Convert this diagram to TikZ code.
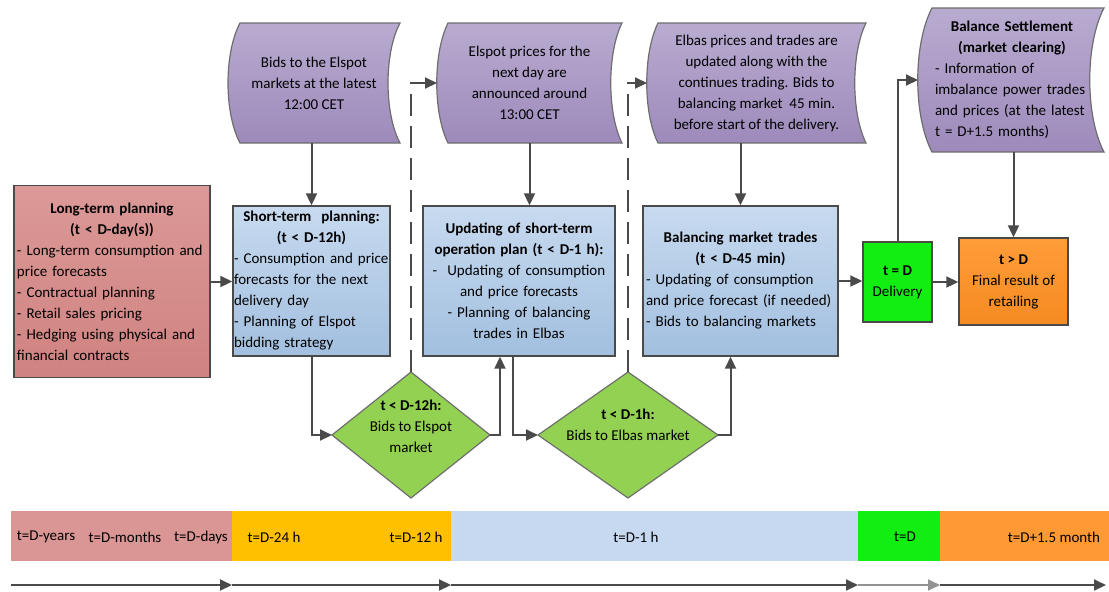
\documentclass[tikz,border=0pt]{standalone}
\usepackage{fontspec}
\setmainfont{Carlito}
\usepackage{tikz}
\usetikzlibrary{shapes,arrows,arrows.meta,positioning,calc}

\definecolor{ltred}{HTML}{DB9997}
\definecolor{ltredd}{HTML}{D08381}
\definecolor{stblue}{HTML}{C7DAEF}
\definecolor{stblued}{HTML}{A2BFDF}
\definecolor{dpurple}{HTML}{B9ABD0}
\definecolor{dpurpled}{HTML}{9D8ABB}
\definecolor{dgreen}{HTML}{93D152}
\definecolor{lgreen}{HTML}{12EE12}
\definecolor{forange}{HTML}{FF9D38}
\definecolor{forangED}{HTML}{F58A22}
\definecolor{tlred}{HTML}{D99694}
\definecolor{tlyellow}{HTML}{FFC000}
\definecolor{tlblue}{HTML}{C6D9F0}
\definecolor{tlorange}{HTML}{FF9933}
\definecolor{edge}{HTML}{4A4A4A}

\begin{document}
\begin{tikzpicture}[x=0.5pt,y=-0.5pt,
    font=\fontsize{7.5}{10.5}\selectfont,
    planbox/.style={draw=edge,line width=0.7pt,inner xsep=1.5pt,inner ysep=1pt,align=left},
    ltbox/.style={planbox,top color=ltred,bottom color=ltredd,text width=95pt,minimum height=96pt},
    stbox/.style={planbox,top color=stblue,bottom color=stblued,minimum height=75pt},
    datashape/.style={draw=edge!80,line width=0.6pt,top color=dpurple,bottom color=dpurpled},
    datatext/.style={inner sep=0pt,outer sep=0pt,align=center},
    dmd/.style={diamond,draw=edge!80,line width=0.6pt,fill=dgreen,inner sep=0pt,outer sep=0pt},
    arr/.style={draw=edge,line width=1pt,-{Triangle[length=6pt,width=5.5pt]}},
    dasharr/.style={arr,dash pattern=on 11pt off 5pt}]

    \useasboundingbox (0,0) rectangle (1109,591);

    % long-term planning
    \node[ltbox] (lt) at (112,281.5) {\centering\textbf{Long-term planning}\\\textbf{(t < D-day(s))}\par
        \raggedright - Long-term consumption and\\price forecasts\\- Contractual planning\\- Retail sales pricing\\- Hedging using physical and\\financial contracts};

    % short-term planning boxes
    \node[stbox,inner xsep=0.5pt,text width=77.5pt] (st) at (311.5,281) {\centering\textbf{Short-term\ \ planning:}\\\textbf{(t < D-12h)}\par
        \raggedright - Consumption and price\\forecasts for the next\\delivery day\\- Planning of Elspot\\bidding strategy};
    \node[stbox,text width=93pt,align=center] (up) at (519,281) {\textbf{Updating of short-term}\\\textbf{operation plan (t < D-1 h):}\\-\ \ Updating of consumption\\and price forecasts\\- Planning of balancing\\trades in Elbas};
    \node[stbox,text width=94.5pt] (bm) at (740.5,281) {\centering\textbf{Balancing market trades}\\\textbf{(t < D-45 min)}\par
        \raggedright - Updating of consumption\\and price forecast (if needed)\\- Bids to balancing markets};

    % delivery and final result
    \node[planbox,fill=lgreen,align=center,minimum width=34.5pt,minimum height=40pt,inner sep=0pt] (dl) at (897.5,282) {\textbf{t = D}\\Delivery};
    \node[planbox,top color=forange,bottom color=forangED,align=center,minimum width=54.5pt,minimum height=43.5pt,inner sep=0pt] (fr) at (1013.5,281.5) {\textbf{t > D}\\Final result of\\retailing};

    % market information (data shapes)
    \draw[datashape] (240,23) -- (400,23) .. controls (384,53) and (384,113) .. (400,143) -- (240,143) .. controls (224,113) and (224,53) .. cycle;
    \node[datatext,minimum width=86pt,minimum height=60pt] (s1) at (314,83) {Bids to the Elspot\\markets at the latest\\12:00 CET};

    \draw[datashape] (448,23) -- (622,23) .. controls (607,53) and (607,113) .. (622,143) -- (448,143) .. controls (433,113) and (433,53) .. cycle;
    \node[datatext,minimum width=92.5pt,minimum height=60pt] (s2) at (529.5,83) {Elspot prices for the\\next day are\\announced around\\13:00 CET};

    \draw[datashape] (658,23) -- (866,23) .. controls (851,53) and (851,113) .. (866,143) -- (658,143) .. controls (643,113) and (643,53) .. cycle;
    \node[datatext,minimum width=109.5pt,minimum height=60pt] (s3) at (756.5,83) {Elbas prices and trades are\\updated along with the\\continues trading. Bids to\\balancing market\ \ 45 min.\\before start of the delivery.};

    \draw[datashape] (932,8) -- (1104,8) .. controls (1085,44) and (1085,116) .. (1104,152) -- (932,152) .. controls (913,116) and (913,44) .. cycle;
    \node[datatext,minimum width=93pt,minimum height=72pt] (s4) at (1011,80) {};
    \node[datatext,text width=77pt,align=left] (s4t) at (1012,80) {\centering\textbf{Balance Settlement}\\\textbf{(market clearing)}\par
        \raggedright - Information of\\imbalance power trades\\and prices (at the latest\\t = D+1.5 months)};

    % bidding decisions
    \node[dmd,minimum width=79pt,minimum height=63pt] (d1) at (411,435) {};
    \node[datatext] (d1t) at (411,426) {\textbf{t < D-12h:}\\Bids to Elspot\\market};
    \node[dmd,minimum width=90pt,minimum height=63pt] (d2) at (628,435) {};
    \node[datatext] (d2t) at (628,425) {\textbf{t < D-1h:}\\Bids to Elbas market};

    % connectors
    \draw[arr] (lt.east) -- (lt.east -| st.west);
    \draw[arr] (st.north |- s1.south) -- (st.north);
    \draw[arr] (s2.south) -- (s2.south |- up.north);
    \draw[arr] (bm.north |- s3.south) -- (bm.north);
    \draw[arr] (fr.north |- s4.south) -- (fr.north);
    \draw[arr] (st.south) |- (d1.west);
    \draw[arr] (d1.east) -| ($(up.south)+(-19,0)$);
    \draw[arr] ($(up.south)+(-6,0)$) |- (d2.west);
    \draw[arr] (d2.east) -| ($(bm.south)+(-10,0)$);
    \draw[dasharr] (d1.north) |- (s2.west);
    \draw[dasharr] (d2.north) |- (s3.west);
    \draw[arr] (bm.east) -- (bm.east -| dl.west);
    \draw[arr] (dl.east) -- (dl.east -| fr.west);
    \draw[arr] (dl.north) |- (s4.west);

    % time line
    \fill[tlred] (11,511) rectangle (232,561);
    \fill[tlyellow] (232,511) rectangle (451,561);
    \fill[tlblue] (451,511) rectangle (858,561);
    \fill[lgreen] (858,511) rectangle (940,561);
    \fill[tlorange] (940,511) rectangle (1109,561);
    \node (tyears) at (46,537) {t=D-years};
    \node (tmonths) at (125,537) {t=D-months};
    \node (tdays) at (201,537) {t=D-days};
    \node (t24) at (274,537) {t=D-24 h};
    \node (t12) at (416,537) {t=D-12 h};
    \node (t1) at (636,537) {t=D-1 h};
    \node (t0) at (905,537) {t=D};
    \node (tplus) at (1054,537) {t=D+1.5 month};

    \coordinate (a0) at (11,585);
    \coordinate (a1) at (232,585);
    \coordinate (a2) at (451,585);
    \coordinate (a3) at (858,585);
    \coordinate (a4) at (940,585);
    \coordinate (a5) at (1106,585);
    \foreach \a/\b in {a0/a1,a1/a2,a2/a3,a4/a5} \draw[arr] (\a) -- (\b);
    \draw[arr,draw=edge!60] (a3) -- (a4);
\end{tikzpicture}
\end{document}
